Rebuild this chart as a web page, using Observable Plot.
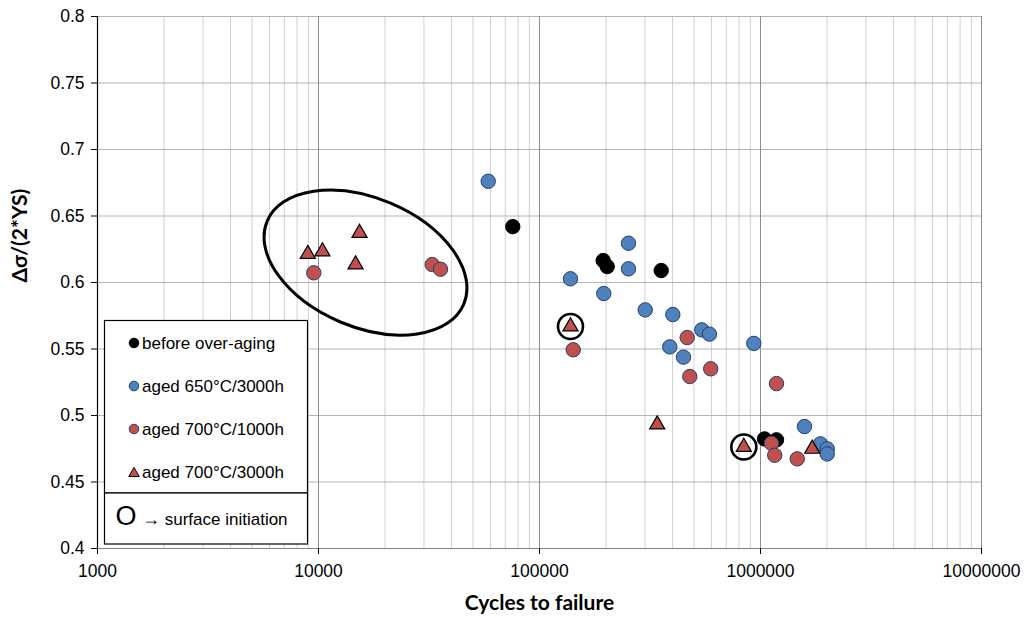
<!DOCTYPE html>
<html>
<head>
<meta charset="utf-8">
<script src="https://cdn.jsdelivr.net/npm/d3@7"></script>
<script src="https://cdn.jsdelivr.net/npm/@observablehq/plot@0.6"></script>
<style>
  body { margin: 0; background: #fff; }
  #chart { width: 1033px; height: 618px; }
</style>
</head>
<body>
<div id="chart"></div>
<script>
// Fatigue results: normalised stress range vs. cycles to failure

// before over-aging
const beforeCycles = [75700, 194200, 202500, 355400, 1042600, 1181400];
const beforeRatio  = [0.642, 0.6165, 0.612, 0.609, 0.4824, 0.4817];

// aged 650°C/3000h
const aged650Cycles = [58600, 138100, 252700, 252700, 195400, 300900, 401100, 388700,
                       448300, 542500, 587800, 932600, 1581000, 1868000, 2004000, 2004000];
const aged650Ratio  = [0.6761, 0.6028, 0.6295, 0.6103, 0.5917, 0.5794, 0.5759, 0.5516,
                       0.5439, 0.5644, 0.5612, 0.5542, 0.4917, 0.4787, 0.4749, 0.4711];

// aged 700°C/1000h
const aged700aCycles = [9520, 32700, 35650, 142100, 465900, 478700, 595300, 1181400,
                        1121000, 1160000, 1466000];
const aged700aRatio  = [0.6073, 0.6135, 0.610, 0.5494, 0.5586, 0.5293, 0.5351, 0.524,
                        0.4791, 0.4701, 0.4674];

// aged 700°C/3000h (flag = crack initiated at the surface)
const aged700bCycles  = [8945, 10420, 15330, 14710, 138100, 340900, 840400, 1714000];
const aged700bRatio   = [0.6214, 0.6233, 0.6372, 0.6135, 0.5669, 0.4932, 0.4763, 0.4749];
const aged700bSurface = [false, false, false, false, true, false, true, false];

// axis ticks
const decades = [1000, 10000, 100000, 1000000, 10000000];
const yTicks = [0.4, 0.45, 0.5, 0.55, 0.6, 0.65, 0.7, 0.75, 0.8];

// legend entries
const legendLabels = ["before over-aging", "aged 650°C/3000h", "aged 700°C/1000h", "aged 700°C/3000h"];

// low-cycle group highlighted by an ellipse (centre in data units)
const groupCentre = [16400, 0.6146];

const toRows = (xs, ys) => xs.map((x, i) => ({cycles: x, ratio: ys[i]}));
const before = toRows(beforeCycles, beforeRatio);
const aged650 = toRows(aged650Cycles, aged650Ratio);
const aged700a = toRows(aged700aCycles, aged700aRatio);
const aged700b = toRows(aged700bCycles, aged700bRatio);
const surface = aged700b.filter((d, i) => aged700bSurface[i]);

// minor log grid: 2..9 within each decade
const minorTicks = decades.slice(0, -1).flatMap(d => d3.range(2, 10).map(k => k * d));

const blue = "#4f81bd", red = "#c0504d", outline = "#23406e";
const sans = "'Liberation Sans', Arial, sans-serif";
const titleFont = "Lato, 'DejaVu Sans', sans-serif";

const chart = Plot.plot({
  width: 1033,
  height: 618,
  marginLeft: 97,
  marginRight: 52,
  marginTop: 16,
  marginBottom: 70,
  style: {fontFamily: sans, fontSize: "17.5px", color: "#000", background: "#fff"},
  x: {type: "log", domain: [1000, 10000000]},
  y: {domain: [0.4, 0.8]},
  marks: [
    Plot.ruleX(minorTicks, {stroke: "#d0d0d0", strokeWidth: 1}),
    Plot.ruleY(yTicks.slice(1), {stroke: "#b4b4b4", strokeWidth: 1}),
    Plot.ruleX(decades.slice(1), {stroke: "#8c8c8c", strokeWidth: 1}),
    Plot.ruleY([0.4], {stroke: "#808080", strokeWidth: 1.2}),
    Plot.ruleX([1000], {stroke: "#000", strokeWidth: 1.2}),
    Plot.axisX({ticks: decades, tickFormat: d => String(d), tickSize: 6, tickPadding: 10, label: null}),
    Plot.axisY({ticks: yTicks, tickFormat: d => String(+d.toFixed(2)), tickSize: 6, tickPadding: 7, label: null}),
    Plot.text(["Cycles to failure"], {text: d => d, frameAnchor: "bottom", dy: 61,
      fontFamily: titleFont, fontWeight: "bold", fontSize: 21, fill: "#000"}),
    Plot.text(["Δσ/(2*YS)"], {text: d => d, frameAnchor: "left", dx: -77, rotate: -90,
      fontFamily: titleFont, fontWeight: "bold", fontSize: 21, fill: "#000"}),
    Plot.dot(before, {x: "cycles", y: "ratio", r: 7.2, fill: "#000", stroke: "#000", strokeWidth: 1}),
    Plot.dot(aged650, {x: "cycles", y: "ratio", r: 7.2, fill: blue, stroke: outline, strokeWidth: 1}),
    Plot.dot(aged700a, {x: "cycles", y: "ratio", r: 7.2, fill: red, stroke: outline, strokeWidth: 1}),
    Plot.dot(aged700b, {x: "cycles", y: "ratio", symbol: "triangle", r: 5.6, fill: red, stroke: "#000", strokeWidth: 1.2}),
    Plot.dot(surface, {x: "cycles", y: "ratio", r: 12.5, fill: "none", stroke: "#000", strokeWidth: 2.6})
  ]
});

const svg = d3.select(chart);
const sx = chart.scale("x"), sy = chart.scale("y");

// ellipse around the low-cycle group
svg.append("ellipse")
  .attr("cx", 0).attr("cy", 0)
  .attr("rx", 106.7).attr("ry", 64.5)
  .attr("transform", `translate(${sx.apply(groupCentre[0])},${sy.apply(groupCentre[1])}) rotate(22.9)`)
  .attr("fill", "none").attr("stroke", "#000").attr("stroke-width", 3);

// legend box
const lg = svg.append("g").attr("font-family", sans).attr("font-size", 17).attr("text-anchor", "start");
lg.append("rect").attr("x", 104.5).attr("y", 320.5).attr("width", 203).attr("height", 172.5)
  .attr("fill", "#fff").attr("stroke", "#000").attr("stroke-width", 1.2);
lg.append("rect").attr("x", 104.5).attr("y", 493).attr("width", 203).attr("height", 51)
  .attr("fill", "#fff").attr("stroke", "#000").attr("stroke-width", 1.2);

const rowY = [343, 386, 429, 472.5];
const swatches = [
  {fill: "#000", stroke: "#000", sym: d3.symbolCircle},
  {fill: blue, stroke: outline, sym: d3.symbolCircle},
  {fill: red, stroke: outline, sym: d3.symbolCircle},
  {fill: red, stroke: "#000", sym: d3.symbolTriangle}
];
legendLabels.forEach((label, i) => {
  const s = swatches[i];
  lg.append("path")
    .attr("d", d3.symbol(s.sym, s.sym === d3.symbolTriangle ? 48 : 72)())
    .attr("transform", `translate(134,${rowY[i] + (s.sym === d3.symbolTriangle ? 1 : 0)})`)
    .attr("fill", s.fill).attr("stroke", s.stroke).attr("stroke-width", 1);
  lg.append("text").attr("x", 142).attr("y", rowY[i]).attr("dy", "0.35em")
    .attr("text-anchor", "start").attr("fill", "#000").text(label);
});
lg.append("text").attr("x", 126).attr("y", 516).attr("dy", "0.35em").attr("text-anchor", "middle")
  .attr("font-size", 27).attr("fill", "#000").text("O");
const note = lg.append("text").attr("x", 142).attr("y", 519).attr("dy", "0.35em")
  .attr("text-anchor", "start").attr("fill", "#000");
note.append("tspan").attr("font-size", 18).text("→");
note.append("tspan").text(" surface initiation");

document.getElementById("chart").appendChild(chart);
</script>
</body>
</html>
